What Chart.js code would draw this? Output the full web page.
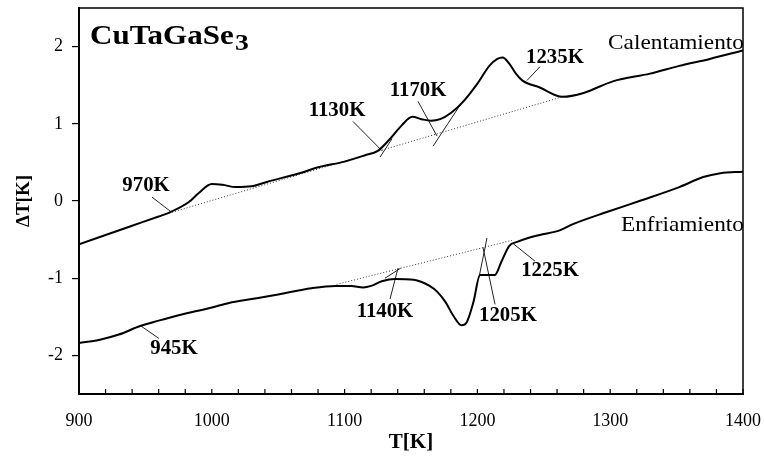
<!DOCTYPE html>
<html>
<head>
<meta charset="utf-8">
<script src="https://cdn.jsdelivr.net/npm/chart.js@4"></script>
<style>
  html, body { margin: 0; padding: 0; background: #fff; }
  #wrap { width: 764px; height: 461px; }
</style>
</head>
<body>
<div id="wrap"><canvas id="dta"></canvas></div>
<script>
// heating run (Calentamiento)
var heatT  = [900, 920, 940, 960, 968, 983, 990, 1000, 1008, 1018, 1030, 1042, 1066, 1081, 1100, 1115, 1125, 1135, 1143, 1151, 1158, 1165, 1172, 1180, 1189, 1200, 1209, 1215, 1219, 1224, 1229, 1234, 1247, 1264, 1280, 1302, 1330, 1352, 1375, 1400];
var heatDT = [-0.56, -0.44, -0.32, -0.20, -0.15, -0.01, 0.10, 0.22, 0.21, 0.18, 0.19, 0.25, 0.36, 0.44, 0.51, 0.59, 0.65, 0.82, 0.98, 1.09, 1.06, 1.04, 1.06, 1.14, 1.28, 1.52, 1.75, 1.84, 1.86, 1.78, 1.65, 1.56, 1.47, 1.35, 1.40, 1.55, 1.65, 1.75, 1.84, 1.95];

// cooling run (Enfriamiento)
var coolT  = [900, 915, 930, 946, 960, 975, 1000, 1013, 1030, 1050, 1075, 1093, 1105, 1114, 1120, 1128, 1138, 1152, 1164, 1170, 1176, 1182, 1188, 1192, 1197, 1202, 1213, 1218, 1224, 1230, 1240, 1247, 1262, 1272, 1298, 1322, 1352, 1370, 1383, 1400];
var coolDT = [-1.84, -1.80, -1.73, -1.62, -1.55, -1.48, -1.38, -1.32, -1.27, -1.21, -1.13, -1.10, -1.10, -1.12, -1.10, -1.04, -1.01, -1.02, -1.10, -1.18, -1.31, -1.49, -1.61, -1.57, -1.31, -0.96, -0.96, -0.79, -0.58, -0.53, -0.47, -0.44, -0.38, -0.30, -0.14, 0.00, 0.18, 0.31, 0.36, 0.38];

// dotted baselines
var heatBaseT = [968, 1264];
var heatBaseDT = [-0.156, 1.35];
var coolBaseT = [1094, 1226];
var coolBaseDT = [-1.08, -0.51];

// tangents and pointer lines, each [T0, T1] / [dT0, dT1]
var segT = [
  [955, 969.3], [1126.7, 1135.7], [1106.3, 1128.2], [1166.6, 1189.2], [1155.3, 1169.6], [1237.3, 1247.1],
  [946.7, 960.2], [1130.4, 1142.2], [1134.2, 1140.2], [1201.2, 1207.2], [1204.2, 1213.3], [1226.8, 1243.4]
];
var segDT = [
  [0.05, -0.14], [0.57, 0.805], [1.03, 0.65], [0.71, 1.30], [1.29, 0.84], [1.56, 1.74],
  [-1.62, -1.78], [-1.00, -0.87], [-1.27, -0.87], [-0.99, -0.48], [-0.60, -1.34], [-0.55, -0.78]
];

// transition temperatures and where their labels sit
var peakNames = ['970K', '1130K', '1170K', '1235K', '945K', '1140K', '1205K', '1225K'];
var peakLabT  = [950.5, 1094.3, 1155.3, 1258.4, 971.5, 1130.4, 1223, 1254.7];
var peakLabDT = [0.195, 1.17, 1.43, 1.86, -1.91, -1.44, -1.49, -0.91];

var xTicks = [900, 920, 940, 960, 980, 1000, 1020, 1040, 1060, 1080, 1100, 1120, 1140, 1160, 1180, 1200, 1220, 1240, 1260, 1280, 1300, 1320, 1340, 1360, 1380, 1400];
var yTicks = [-2, -1, 0, 1, 2];

function pts(xs, ys) {
  return xs.map(function(v, i) { return {x: v, y: ys[i]}; });
}

var datasets = [
  {data: pts(heatT, heatDT), borderColor: '#000', borderWidth: 2, cubicInterpolationMode: 'monotone'},
  {data: pts(coolT, coolDT), borderColor: '#000', borderWidth: 2, cubicInterpolationMode: 'monotone'},
  {data: pts(heatBaseT, heatBaseDT), borderColor: '#333', borderWidth: 1, borderDash: [1, 2]},
  {data: pts(coolBaseT, coolBaseDT), borderColor: '#333', borderWidth: 1, borderDash: [1, 2]}
];
for (var i = 0; i < segT.length; i++) {
  datasets.push({data: pts(segT[i], segDT[i]), borderColor: '#222', borderWidth: 1});
}

function stretchText(ctx, txt, x, y, sx, align) {
  ctx.save();
  ctx.translate(x, y);
  ctx.scale(sx, 1);
  ctx.textAlign = align || 'center';
  ctx.fillText(txt, 0, 0);
  ctx.restore();
}

var decor = {
  id: 'decor',
  afterDatasetsDraw: function(chart) {
    var ctx = chart.ctx, a = chart.chartArea;
    var xs = chart.scales.x, ys = chart.scales.y;
    ctx.save();
    // frame top and right
    ctx.strokeStyle = '#000';
    ctx.lineWidth = 1.5;
    ctx.beginPath();
    ctx.moveTo(a.left, a.top);
    ctx.lineTo(a.right, a.top);
    ctx.lineTo(a.right, a.bottom);
    ctx.stroke();
    // inward ticks on T axis
    ctx.lineWidth = 1.2;
    xs.ticks.forEach(function(t) {
      var px = xs.getPixelForValue(t.value);
      ctx.beginPath();
      ctx.moveTo(px, a.bottom);
      ctx.lineTo(px, a.bottom - 5);
      ctx.stroke();
    });

    ctx.fillStyle = '#000';
    ctx.textBaseline = 'middle';
    ctx.font = 'bold 20px "Liberation Serif"';
    for (var i = 0; i < peakNames.length; i++) {
      stretchText(ctx, peakNames[i], xs.getPixelForValue(peakLabT[i]), ys.getPixelForValue(peakLabDT[i]), 1.04);
    }

    ctx.font = '22px "Liberation Serif"';
    ctx.save();
    ctx.beginPath();
    ctx.rect(a.left, a.top, a.right - a.left + 1, a.bottom - a.top);
    ctx.clip();
    stretchText(ctx, 'Calentamiento', xs.getPixelForValue(1400) + 1, ys.getPixelForValue(2.05), 1.06, 'right');
    stretchText(ctx, 'Enfriamiento', xs.getPixelForValue(1400) + 1, ys.getPixelForValue(-0.32), 1.06, 'right');
    ctx.restore();

    // compound name with subscript
    var x0 = xs.getPixelForValue(908.3), y0 = ys.getPixelForValue(2.13);
    ctx.font = 'bold 27px "Liberation Serif"';
    ctx.save();
    ctx.translate(x0, y0);
    ctx.scale(1.15, 1);
    ctx.textAlign = 'left';
    ctx.fillText('CuTaGaSe', 0, 0);
    var w = ctx.measureText('CuTaGaSe').width;
    ctx.font = 'bold 24px "Liberation Serif"';
    ctx.fillText('3', w + 1, 7);
    ctx.restore();

    ctx.restore();
  }
};

var ctx = document.getElementById('dta').getContext('2d');
var chart = new Chart(ctx, {
  type: 'line',
  data: {datasets: datasets},
  options: {
    responsive: true,
    maintainAspectRatio: false,
    animation: false,
    layout: {padding: {top: 8, right: 21, left: 0, bottom: 0}},
    elements: {point: {radius: 0}},
    plugins: {legend: {display: false}, tooltip: {enabled: false}},
    scales: {
      x: {
        type: 'linear',
        min: 900,
        max: 1400,
        afterBuildTicks: function(s) { s.ticks = xTicks.map(function(v) { return {value: v}; }); },
        afterFit: function(s) { s.height = 67; s.paddingLeft = 0; s.paddingRight = 0; },
        grid: {drawOnChartArea: false, drawTicks: false},
        border: {color: '#000', width: 2},
        ticks: {
          color: '#000',
          padding: 16,
          maxRotation: 0,
          autoSkip: false,
          font: {family: '"Liberation Serif"', size: 18},
          callback: function(v) { return v % 100 === 0 ? v : ''; }
        },
        title: {
          display: true,
          text: 'T[K]',
          color: '#000',
          font: {family: '"Liberation Serif"', size: 21, weight: 'bold'},
          padding: {bottom: 6}
        }
      },
      y: {
        min: -2.5,
        max: 2.5,
        afterBuildTicks: function(s) { s.ticks = yTicks.map(function(v) { return {value: v}; }); },
        afterFit: function(s) { s.width = 79; s.paddingTop = 0; s.paddingBottom = 0; },
        grid: {drawOnChartArea: false, drawTicks: true, tickLength: 7, color: '#000', lineWidth: 1.2},
        border: {color: '#000', width: 2},
        ticks: {
          color: '#000',
          padding: 9,
          font: {family: '"Liberation Serif"', size: 18}
        },
        title: {
          display: true,
          text: 'ΔT[K]',
          color: '#000',
          font: {family: '"Liberation Serif"', size: 19, weight: 'bold'},
          padding: {top: 13}
        }
      }
    }
  },
  plugins: [decor]
});
</script>
</body>
</html>
